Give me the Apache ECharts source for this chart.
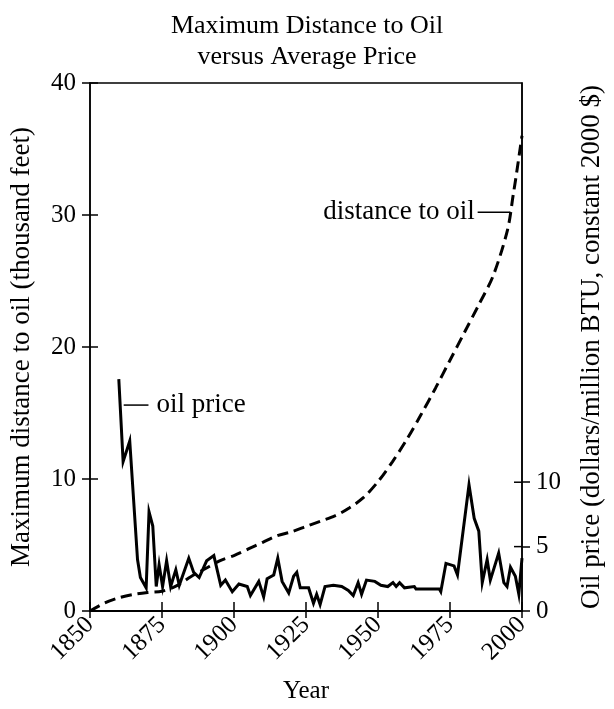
<!DOCTYPE html>
<html>
<head>
<meta charset="utf-8">
<script src="https://cdn.jsdelivr.net/npm/echarts@6/dist/echarts.min.js"></script>
<style>
  html, body { margin: 0; padding: 0; background: #fff; }
  #chart { width: 614px; height: 709px; }
</style>
</head>
<body>
<div id="chart"></div>
<script>
// 数据：距离（千英尺），按年份
var distYears = [1850, 1855, 1860, 1865, 1870, 1875, 1880, 1885, 1890, 1895, 1900, 1905, 1910, 1915, 1920,
    1925, 1930, 1935, 1940, 1945, 1950, 1955, 1960, 1965, 1970, 1975, 1980, 1985, 1990, 1995, 1997, 1998, 1999, 2000];
var distValues = [0, 0.6, 1.0, 1.25, 1.4, 1.5, 1.9, 2.6, 3.2, 3.8, 4.2, 4.7, 5.2, 5.7, 6.0,
    6.4, 6.8, 7.2, 7.8, 8.6, 9.8, 11.3, 13.0, 14.9, 16.9, 19.0, 21.1, 23.2, 25.4, 28.9, 31.6, 33.0, 34.5, 36.0];

// 数据：油价（美元/百万BTU）
var priceYears = [1860, 1861.5, 1863.8, 1866.5, 1867.5, 1869.5, 1870.5, 1871.8, 1873, 1874, 1875.2, 1876.6, 1878,
    1879.8, 1881, 1884.3, 1886, 1887.9, 1890.5, 1893, 1895.4, 1897, 1899.4, 1901.7, 1904.6, 1905.7, 1908.6,
    1910.3, 1911.5, 1913.8, 1915.2, 1916.7, 1919, 1920.7, 1921.8, 1923, 1925.9, 1927.6, 1928.7, 1929.9, 1931.6,
    1934.5, 1937.4, 1939.7, 1941.4, 1943.1, 1944.3, 1946, 1948.9, 1951, 1953.4, 1955.2, 1956.3, 1957.5, 1959.2,
    1962.6, 1963.2, 1971.3, 1971.8, 1973.6, 1976.4, 1977.6, 1981.6, 1983.4, 1985, 1986.2, 1987.9, 1989, 1991.9,
    1993.7, 1994.8, 1996, 1997.7, 1998.9, 2000];
var priceValues = [18.0, 11.6, 13.2, 4.0, 2.6, 1.8, 7.7, 6.6, 1.9, 3.6, 1.9, 3.9, 1.9,
    3.2, 2.0, 4.1, 3.0, 2.6, 3.9, 4.3, 2.0, 2.4, 1.5, 2.1, 1.9, 1.2, 2.3,
    1.1, 2.5, 2.8, 4.1, 2.3, 1.4, 2.7, 3.0, 1.8, 1.8, 0.6, 1.3, 0.5, 1.9,
    2.0, 1.9, 1.6, 1.2, 2.2, 1.3, 2.4, 2.3, 2.0, 1.9, 2.2, 1.9, 2.2, 1.8,
    1.9, 1.7, 1.7, 1.5, 3.7, 3.5, 2.8, 9.8, 7.2, 6.2, 2.2, 4.0, 2.4, 4.5,
    2.2, 1.9, 3.4, 2.7, 1.3, 4.1];

// 刻度
var yearTicks = [1850, 1875, 1900, 1925, 1950, 1975, 2000];
var leftTicks = [0, 10, 20, 30, 40];
var rightTicks = [0, 5, 10];

// 标注位置（年份, 左轴值）
var oilNote = { from: [1861.7, 15.6], to: [1870.3, 15.6], text: 'oil price' };
var distNote = { from: [1996, 30.2], to: [1984.6, 30.2], text: 'distance to oil' };

function pairs(xs, ys) {
    return xs.map(function (x, i) { return [x, ys[i]]; });
}

var serif = 'Liberation Serif';
var black = '#000';
var tickStyle = { color: black, width: 1.5 };

var chart = echarts.init(document.getElementById('chart'));

var option = {
    animation: false,
    textStyle: { fontFamily: serif, color: black },
    title: {
        text: 'Maximum Distance to Oil\nversus Average Price',
        left: 'center',
        top: 6,
        textStyle: { fontFamily: serif, fontSize: 26, fontWeight: 'normal', lineHeight: 31, color: black }
    },
    grid: {
        left: 87, right: 92, top: 83, bottom: 97,
        show: true, borderColor: black, borderWidth: 1.5
    },
    xAxis: {
        type: 'value', min: 1850, max: 2000, interval: 25,
        name: 'Year', nameLocation: 'middle', nameGap: 68,
        nameTextStyle: { fontFamily: serif, fontSize: 25, color: black },
        axisLine: { lineStyle: { color: black, width: 2 } },
        axisTick: { length: 7, lineStyle: tickStyle },
        axisLabel: {
            rotate: 45, fontFamily: serif, fontSize: 25, color: black, margin: 10,
            formatter: function (v) { return String(v); }
        },
        splitLine: { show: false }
    },
    yAxis: [{
        type: 'value', min: 0, max: 40, interval: 10, position: 'left',
        name: 'Maximum distance to oil (thousand feet)', nameLocation: 'middle', nameGap: 55,
        nameTextStyle: { fontFamily: serif, fontSize: 27, color: black },
        axisLine: { show: true, lineStyle: { color: black, width: 1.5 } },
        axisTick: { show: true, length: 8, lineStyle: tickStyle },
        axisLabel: { fontFamily: serif, fontSize: 25, color: black, margin: 14 },
        splitLine: { show: false }
    }, {
        type: 'value', min: 0, max: 41, position: 'right',
        name: 'Oil price (dollars/million BTU, constant 2000 $)', nameLocation: 'middle', nameGap: 56,
        nameRotate: 90,
        nameTextStyle: { fontFamily: serif, fontSize: 27, color: black },
        axisLine: { show: true, lineStyle: { color: black, width: 1.5 } },
        axisTick: { show: true, length: 8, customValues: rightTicks, lineStyle: tickStyle },
        axisLabel: { fontFamily: serif, fontSize: 25, color: black, margin: 14, customValues: rightTicks },
        splitLine: { show: false }
    }],
    series: [{
        name: 'distance to oil',
        type: 'line',
        yAxisIndex: 0,
        data: pairs(distYears, distValues),
        smooth: 0.3,
        showSymbol: false,
        lineStyle: { color: black, width: 3, type: [11, 6] }
    }, {
        name: 'oil price',
        type: 'line',
        yAxisIndex: 1,
        data: pairs(priceYears, priceValues),
        showSymbol: false,
        lineStyle: { color: black, width: 3, join: 'miter' }
    }]
};

chart.setOption(option);

// 刻度向内的一半（原图刻度线穿过坐标轴）
var x0 = chart.convertToPixel({ xAxisIndex: 0 }, 1850);
var x1 = chart.convertToPixel({ xAxisIndex: 0 }, 2000);
var y0 = chart.convertToPixel({ yAxisIndex: 0 }, 0);
var innerTicks = [];
yearTicks.forEach(function (t) {
    var x = chart.convertToPixel({ xAxisIndex: 0 }, t);
    innerTicks.push({ type: 'line', shape: { x1: x, y1: y0, x2: x, y2: y0 - 9 }, style: { stroke: black, lineWidth: 1.5 } });
});
leftTicks.forEach(function (t) {
    var y = chart.convertToPixel({ yAxisIndex: 0 }, t);
    innerTicks.push({ type: 'line', shape: { x1: x0, y1: y, x2: x0 + 8, y2: y }, style: { stroke: black, lineWidth: 1.5 } });
});
rightTicks.forEach(function (t) {
    var y = chart.convertToPixel({ yAxisIndex: 1 }, t);
    innerTicks.push({ type: 'line', shape: { x1: x1, y1: y, x2: x1 - 8, y2: y }, style: { stroke: black, lineWidth: 1.5 } });
});

// 标注：引线和文字
function note(n, align) {
    var a = chart.convertToPixel({ xAxisIndex: 0, yAxisIndex: 0 }, n.from);
    var b = chart.convertToPixel({ xAxisIndex: 0, yAxisIndex: 0 }, n.to);
    return [{
        type: 'line',
        shape: { x1: a[0], y1: a[1], x2: b[0], y2: b[1] },
        style: { stroke: black, lineWidth: 1.5 }
    }, {
        type: 'text',
        x: align === 'left' ? b[0] + 8 : b[0] - 3,
        y: b[1],
        style: {
            text: n.text, fontFamily: serif, fontSize: 27, fill: black,
            align: align, verticalAlign: 'middle'
        }
    }];
}

chart.setOption({
    graphic: innerTicks.concat(note(oilNote, 'left'), note(distNote, 'right'))
});
</script>
</body>
</html>
